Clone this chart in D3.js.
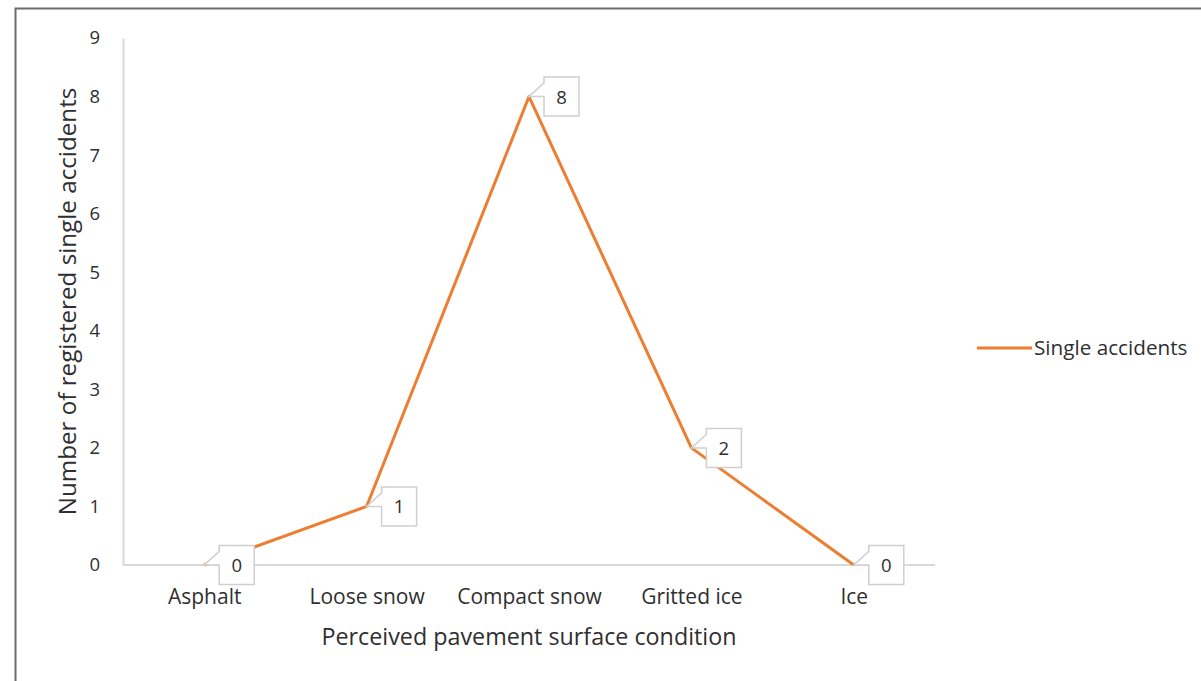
<!DOCTYPE html>
<html>
<head>
<meta charset="utf-8">
<script src="https://cdn.jsdelivr.net/npm/d3@7"></script>
<style>
  body { margin: 0; background: #fff; }
  svg { display: block; font-family: "Open Sans", Lato, sans-serif; }
</style>
</head>
<body>
<div id="chart"></div>
<script>
const conditions = ["Asphalt", "Loose snow", "Compact snow", "Gritted ice", "Ice"];
const singleAccidents = [0, 1, 8, 2, 0];
const yTicks = [0, 1, 2, 3, 4, 5, 6, 7, 8, 9];
const seriesName = "Single accidents";
const xTitle = "Perceived pavement surface condition";
const yTitle = "Number of registered single accidents";

const width = 1201;
const height = 681;
const margin = {top: 38, right: 266, bottom: 116, left: 123};
const textColor = "#2f2f2f";
const lineColor = "#ED7D31";
const axisColor = "#d9d9d9";

const svg = d3.select("#chart")
    .append("svg")
    .attr("width", width)
    .attr("height", height);

// outer frame (top and left edges visible)
svg.append("path")
    .attr("d", `M15.5,${height} V8.5 H${width}`)
    .attr("fill", "none")
    .attr("stroke", "#6b6b6b")
    .attr("stroke-width", 2);

const x = d3.scalePoint()
    .domain(conditions)
    .range([margin.left, width - margin.right])
    .padding(0.5);

const y = d3.scaleLinear()
    .domain([0, 9])
    .range([height - margin.bottom, margin.top]);

// y axis
const yAxis = svg.append("g")
    .attr("transform", `translate(${margin.left},0)`)
    .call(d3.axisLeft(y).tickValues(yTicks).tickSize(0).tickPadding(23))
    .attr("font-family", null)
    .attr("font-size", null);
yAxis.select(".domain").attr("stroke", axisColor).attr("stroke-width", 2);
yAxis.selectAll("text")
    .attr("fill", textColor)
    .style("font-size", "18.5px");

// x axis
const xAxis = svg.append("g")
    .attr("transform", `translate(0,${y(0)})`)
    .call(d3.axisBottom(x).tickSize(0).tickPadding(24))
    .attr("font-family", null)
    .attr("font-size", null);
xAxis.select(".domain")
    .attr("d", `M${margin.left},0H${width - margin.right}`)
    .attr("stroke", axisColor)
    .attr("stroke-width", 2);
xAxis.selectAll("text")
    .attr("fill", textColor)
    .style("font-size", "21px");

// axis titles
svg.append("text")
    .attr("x", (margin.left + width - margin.right) / 2)
    .attr("y", 645)
    .attr("text-anchor", "middle")
    .attr("fill", textColor)
    .style("font-size", "23.3px")
    .text(xTitle);

svg.append("text")
    .attr("transform", `translate(76,${(y(0) + y(9)) / 2}) rotate(-90)`)
    .attr("text-anchor", "middle")
    .attr("fill", textColor)
    .style("font-size", "24.2px")
    .text(yTitle);

// series line
const line = d3.line()
    .x((d, i) => x(conditions[i]))
    .y(d => y(d));

svg.append("path")
    .datum(singleAccidents)
    .attr("d", line)
    .attr("fill", "none")
    .attr("stroke", lineColor)
    .attr("stroke-width", 3)
    .attr("stroke-linejoin", "round");

// callout labels
const boxW = 35, boxH = 39, gap = 15;
const callouts = svg.append("g");
singleAccidents.forEach((v, i) => {
    const px = x(conditions[i]);
    const py = y(v);
    const bx = px + gap;
    const by = py - boxH / 2;
    const g = callouts.append("g");
    g.append("path")
        .attr("d", `M${bx},${by} H${bx + boxW} V${by + boxH} H${bx} V${py} L${px},${py} L${bx},${by + boxH * 0.15} Z`)
        .attr("fill", "#fff")
        .attr("stroke", "#cfcfcf")
        .attr("stroke-width", 1.5);
    g.append("text")
        .attr("x", bx + boxW / 2)
        .attr("y", py + 7)
        .attr("text-anchor", "middle")
        .attr("fill", textColor)
        .style("font-size", "18.5px")
        .text(v);
});

// legend
const legend = svg.append("g").attr("transform", "translate(977,348)");
legend.append("line")
    .attr("x1", 0).attr("x2", 55)
    .attr("stroke", lineColor)
    .attr("stroke-width", 3);
legend.append("text")
    .attr("x", 57)
    .attr("y", 7)
    .attr("fill", textColor)
    .style("font-size", "20.7px")
    .text(seriesName);
</script>
</body>
</html>
